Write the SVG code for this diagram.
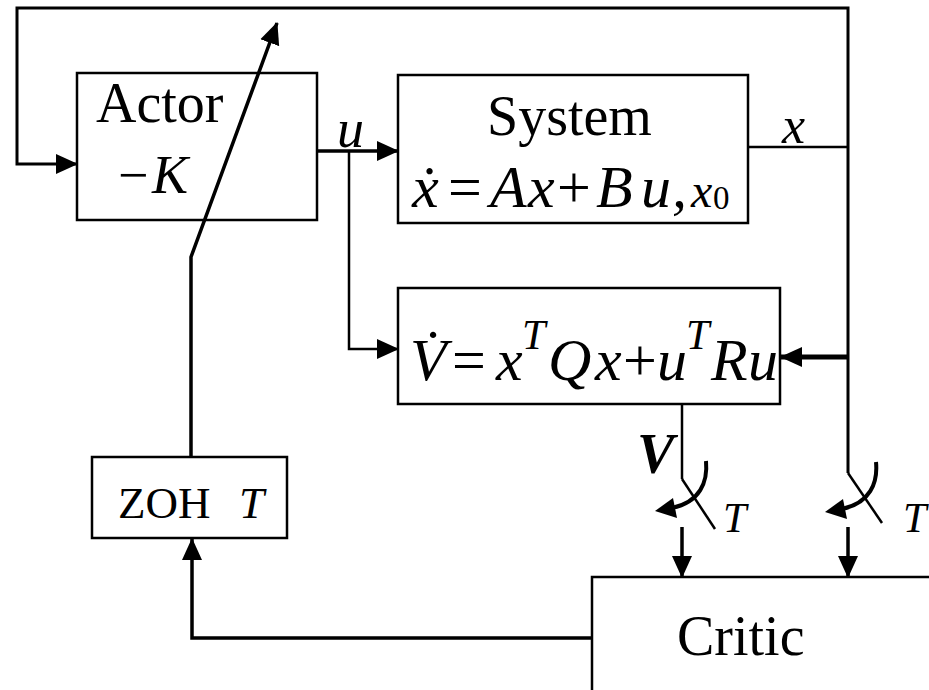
<svg xmlns="http://www.w3.org/2000/svg" width="929" height="690" viewBox="0 0 929 690">
<style>
.box{fill:#fff;stroke:#000;stroke-width:2.5}
.ln{fill:none;stroke:#000;stroke-width:2.5}
.thk{fill:none;stroke:#000;stroke-width:3.5}
.t{font-family:"Liberation Serif","Times New Roman",serif;fill:#000}
.i{font-style:italic}
.hd{fill:#000;stroke:none}
</style>
<defs>
<marker id="ah" markerUnits="userSpaceOnUse" markerWidth="22" markerHeight="22" viewBox="0 0 22 22" refX="21" refY="11" orient="auto">
<path d="M0,1 L22,11 L0,21 Z" fill="#000"/>
</marker>
</defs>
<rect width="929" height="690" fill="#fff"/>

<g id="connectors">
<path class="thk" d="M848,473 V8 H17 V164 H77" style="stroke-width:3" marker-end="url(#ah)"/>
<path class="thk" d="M317,151 H398" marker-end="url(#ah)"/>
<path class="ln" d="M349,151 V349 H398" marker-end="url(#ah)"/>
<path class="ln" d="M748,147 H848"/>
<path class="ln" d="M848,357 H781" style="stroke-width:5" marker-end="url(#ah)"/>
<path class="ln" d="M682,404 V479"/>
<path class="ln" d="M682,479 L715,529"/>
<path class="ln" d="M848,473 L882,523"/>
<path class="thk" d="M706,461 C708,482 700,502 672,508" style="stroke-width:4"/>
<path class="hd" d="M655,511 L673,498 L677,518 Z"/>
<path class="thk" d="M876,462 C878,483 870,503 842,509" style="stroke-width:4"/>
<path class="hd" d="M825,512 L843,499 L847,519 Z"/>
<path class="thk" d="M682,527 V577" marker-end="url(#ah)"/>
<path class="thk" d="M848,527 V577" marker-end="url(#ah)"/>
<path class="thk" d="M592,638 H192 V539" marker-end="url(#ah)"/>
<path class="thk" d="M191,457 V257 L277,23" marker-end="url(#ah)"/>
</g>

<g id="actor">
<rect class="box" x="77" y="73" width="240" height="147" style="fill:none"/>
<text class="t" x="96" y="122" font-size="56">Actor</text>
<text class="t" x="118" y="193" font-size="54">−<tspan class="i" x="152">K</tspan></text>
</g>

<g id="system">
<rect class="box" x="398" y="75" width="350" height="148"/>
<text class="t" x="487" y="135" font-size="56">System</text>
<text class="t i" y="207" font-size="60"><tspan x="412">ẋ</tspan><tspan x="448" font-style="normal">=</tspan><tspan x="490">A</tspan><tspan x="528">x</tspan><tspan x="557" font-style="normal">+</tspan><tspan x="596">B</tspan><tspan x="641">u</tspan><tspan x="672">,</tspan><tspan x="691" font-size="48">x</tspan><tspan x="713" y="209" font-size="33" font-style="normal">0</tspan></text>
</g>

<g id="value">
<rect class="box" x="398" y="288" width="382" height="116"/>
<text class="t i" y="380" font-size="60"><tspan x="410">V̇</tspan><tspan x="452" font-style="normal">=</tspan><tspan x="496">x</tspan><tspan x="522" y="349" font-size="42">T</tspan><tspan x="548" y="380">Q</tspan><tspan x="595">x</tspan><tspan x="623" font-style="normal">+</tspan><tspan x="657">u</tspan><tspan x="686" y="349" font-size="42">T</tspan><tspan x="711" y="380">R</tspan><tspan x="748">u</tspan></text>
</g>

<g id="zoh">
<rect class="box" x="92" y="457" width="195" height="81"/>
<text class="t" x="118" y="518" font-size="45">ZOH <tspan class="i" x="239">T</tspan></text>
</g>

<g id="critic">
<rect class="box" x="592" y="577" width="400" height="200"/>
<text class="t" x="677" y="655" font-size="56">Critic</text>
</g>

<g id="labels">
<text class="t i" x="337" y="147" font-size="54">u</text>
<text class="t i" x="782" y="143" font-size="52">x</text>
<text class="t i" x="637" y="473" font-size="56" font-weight="bold">V</text>
<text class="t i" x="723" y="532" font-size="42">T</text>
<text class="t i" x="903" y="532" font-size="42">T</text>
</g>
</svg>
